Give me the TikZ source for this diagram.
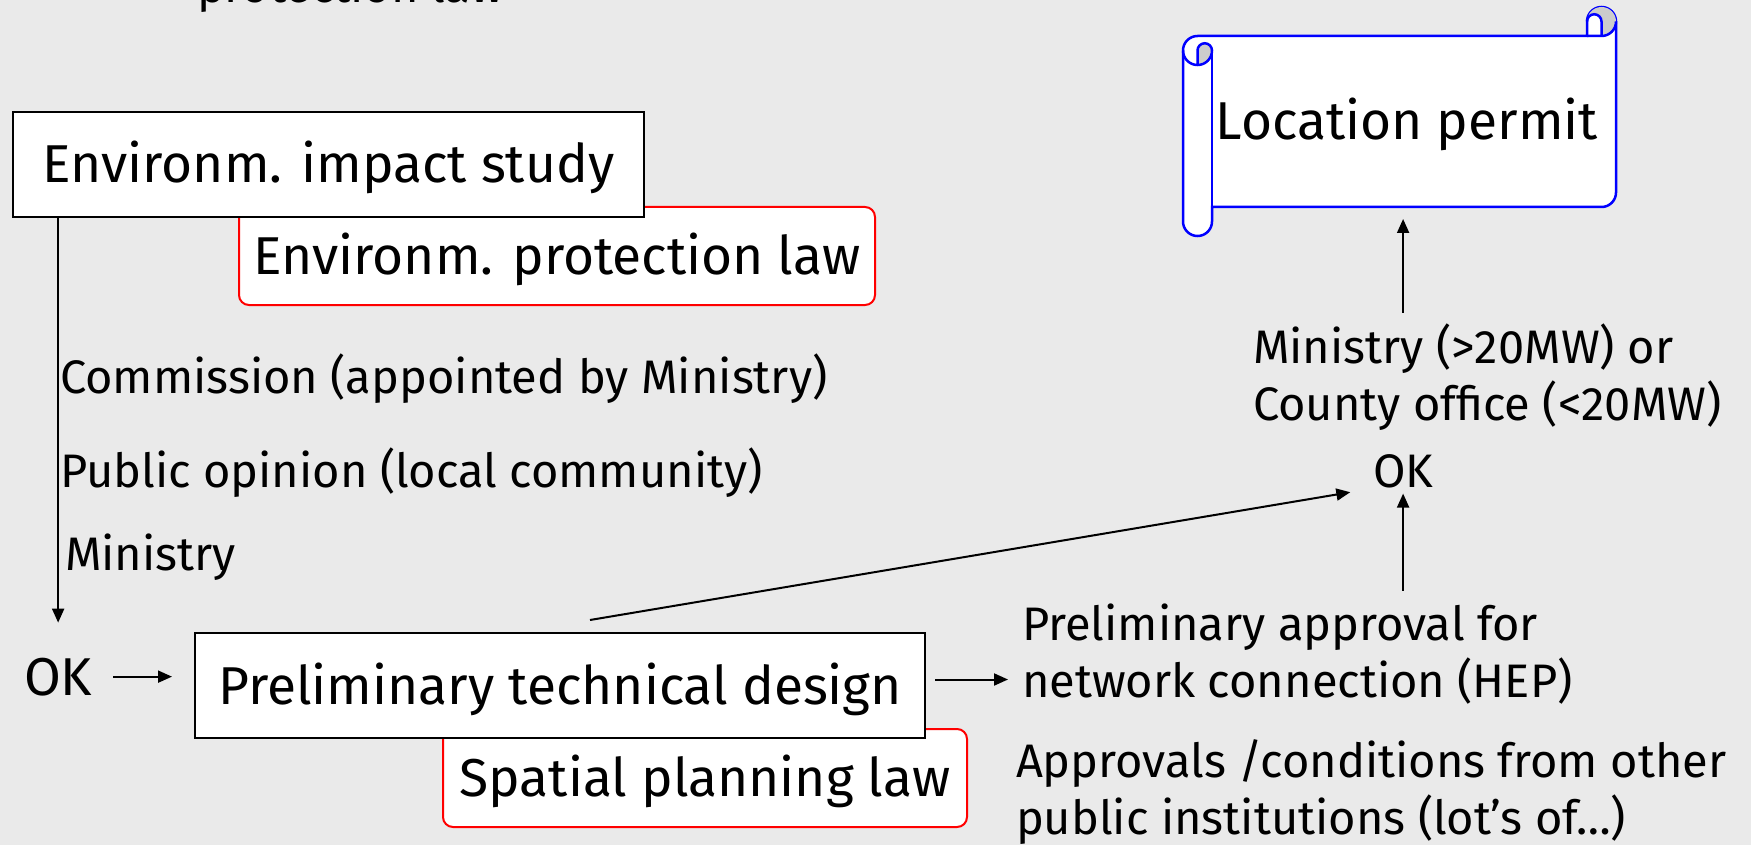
\documentclass[tikz,border=0pt]{standalone}
\usepackage{fontspec}
\setmainfont{Fira Sans}
\usetikzlibrary{arrows.meta}

\definecolor{slidegray}{RGB}{234,234,234}
\definecolor{rollgray}{RGB}{204,204,204}
\newcommand{\boxfont}{\fontsize{53.3}{60}\selectfont}
\newcommand{\notefont}{\fontsize{47}{56.5}\selectfont}

\tikzset{
  plainbox/.style={draw=black, fill=white, line width=2pt, font=\boxfont,
    text height=37pt, text depth=0pt},
  lawbox/.style={draw=red, fill=white, line width=2pt, rounded corners=10pt,
    font=\boxfont, text height=37pt, text depth=0pt},
  note/.style={font=\notefont, inner sep=0pt, align=left},
  scroll/.style={draw=blue, line width=2.5pt, fill=white},
}

\begin{document}
\begin{tikzpicture}[x=1pt, y=-1pt, line width=2pt,
    >={Triangle[length=14pt,width=12pt]}]
  \useasboundingbox (0,0) rectangle (1751,845);
  \fill[slidegray] (0,0) rectangle (1751,845);

  % cut-off line from above
  \node[note, anchor=base west] (top) at (196,3) {protection law};

  % left column
  \node[lawbox, minimum width=636pt, minimum height=98pt] (epl) at (557,256) {Environm. protection law};
  \node[plainbox, minimum width=631pt, minimum height=105pt] (eis) at (328.5,164.5) {Environm. impact study};
  \node[note, anchor=base west] (comm) at (59,393) {Commission (appointed by Ministry)};
  \node[note, anchor=base west] (pub) at (59,487) {Public opinion (local community)};
  \node[note, anchor=base west] (mini) at (64,570) {Ministry};
  \node[font=\boxfont, inner sep=0pt, anchor=base west] (okl) at (23,695) {OK};

  % design and spatial planning
  \node[lawbox, minimum width=524pt, minimum height=98pt] (spl) at (705,778) {Spatial planning law};
  \node[plainbox, minimum width=730pt, minimum height=105pt] (ptd) at (560,685.5) {Preliminary technical design};

  % right column (base = last line)
  \node[note, anchor=base west] (hep) at (1021,697) {Preliminary approval for\\network connection (HEP)};
  \node[note, anchor=base west] (inst) at (1015,834) {Approvals /conditions from other\\public institutions (lot’s of…)};
  \node[note, anchor=base west] (okr) at (1372,487) {OK};
  \node[note, anchor=base west] (mcl) at (1252,420) {Ministry (>20MW) or\\County office (<20MW)};

  % location permit scroll
  \filldraw[scroll] (1183,50.5) arc[start angle=180, delta angle=90, radius=14.5]
    -- (1587,36) -- (1587,21.5) arc[start angle=180, delta angle=180, radius=14.5]
    -- (1616,192.5) arc[start angle=0, delta angle=90, radius=14.5]
    -- (1212,207) -- (1212,221.5) arc[start angle=0, delta angle=180, radius=14.5] -- cycle;
  \fill[rollgray] (1601.5,36) arc[start angle=90, delta angle=-270, radius=14.5]
    arc[start angle=180, delta angle=180, radius=7.25] -- cycle;
  \fill[rollgray] (1197.5,65) -- (1197.5,50.5) arc[start angle=180, delta angle=180, radius=7.25]
    arc[start angle=0, delta angle=90, radius=14.5] -- cycle;
  \draw[blue, line width=2.5pt] (1587,36) -- (1601.5,36) arc[start angle=90, delta angle=-90, radius=14.5];
  \draw[blue, line width=2.5pt] (1601.5,36) -- (1601.5,21.5) arc[start angle=0, delta angle=-180, radius=7.25];
  \draw[blue, line width=2.5pt] (1197.5,65) -- (1197.5,50.5) arc[start angle=180, delta angle=180, radius=7.25]
    arc[start angle=0, delta angle=180, radius=14.5];
  \draw[blue, line width=2.5pt] (1212,50.5) -- (1212,207);
  \node[font=\boxfont, text height=37pt, text depth=0pt, minimum width=390pt, minimum height=171pt] (perm) at (1407,121.5) {Location permit};

  % connectors
  \draw[->, shorten >=34pt] (eis.south -| okl.north) -- (okl.north);
  \draw[->, shorten <=20pt, shorten >=22pt] (okl.east) -- (okl.east -| ptd.west);
  \draw[->, shorten <=9pt, shorten >=13pt] ([yshift=6pt]ptd.east) -- ([yshift=6pt]ptd.east -| hep.west);
  \draw[->, shorten >=22pt] ([xshift=30pt,yshift=12pt]ptd.north) -- (okr.south west);
  \draw[->, shorten <=12pt, shorten >=5pt] (okr.south |- hep.north) -- (okr.south);
  \draw[->, shorten <=10pt, shorten >=11pt] (okr.north |- mcl.north) -- (okr.north |- perm.south);
\end{tikzpicture}
\end{document}
